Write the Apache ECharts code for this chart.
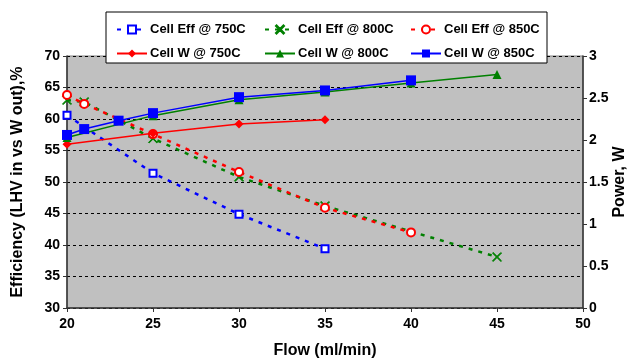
<!DOCTYPE html>
<html>
<head>
<meta charset="utf-8">
<script src="https://cdn.jsdelivr.net/npm/echarts@6/dist/echarts.min.js"></script>
<style>
  html, body { margin: 0; padding: 0; background: #fff; }
  #chart { width: 633px; height: 361px; }
</style>
</head>
<body>
<div id="chart"></div>
<script>
// flow values (ml/min) for each series
var flowEff750 = [20, 25, 30, 35]
var flowEff800 = [20, 21, 25, 30, 35, 45]
var flowEff850 = [20, 21, 25, 30, 35, 40]
var flowW750 = [20, 25, 30, 35]
var flowW800 = [20, 25, 30, 35, 40, 45]
var flowW850 = [20, 21, 23, 25, 30, 35, 40]

// efficiency, %
var eff750 = [60.6, 51.4, 44.9, 39.4]
var eff800 = [63.0, 62.7, 56.9, 50.8, 46.2, 38.1]
var eff850 = [63.8, 62.4, 57.6, 51.6, 45.9, 42.0]

// power, W
var w750 = [1.95, 2.08, 2.19, 2.24]
var w800 = [2.03, 2.29, 2.48, 2.57, 2.68, 2.78]
var w850 = [2.06, 2.13, 2.23, 2.32, 2.51, 2.59, 2.71]

var seriesNames = ['Cell Eff @ 750C', 'Cell Eff @ 800C', 'Cell Eff @ 850C',
  'Cell W @ 750C', 'Cell W @ 800C', 'Cell W @ 850C']

function pairs(xs, ys) {
  return xs.map(function (x, i) { return [x, ys[i]] })
}

// thin "x" marker
var xMark = 'path://M0,0.7L0.7,0L5,4.3L9.3,0L10,0.7L5.7,5L10,9.3L9.3,10L5,5.7L0.7,10L0,9.3L4.3,5Z'
var font = 'Liberation Sans, Arial, sans-serif'

function effSeries(name, color, symbol, size, xs, ys) {
  return {
    name: name,
    type: 'line',
    yAxisIndex: 0,
    data: pairs(xs, ys),
    symbol: symbol,
    symbolSize: size,
    showSymbol: true,
    lineStyle: { color: color, width: 2.5, type: [4, 6] },
    itemStyle: { color: color, borderColor: color, borderWidth: 1 },
    animation: false,
    z: 3
  }
}

function wSeries(name, color, symbol, size, xs, ys) {
  return {
    name: name,
    type: 'line',
    yAxisIndex: 1,
    data: pairs(xs, ys),
    symbol: symbol,
    symbolSize: size,
    lineStyle: { color: color, width: 1.5 },
    itemStyle: { color: color },
    animation: false,
    z: 4
  }
}

function legendCol(left, names) {
  return {
    orient: 'vertical',
    left: left,
    top: 18,
    itemGap: 11,
    itemWidth: 30,
    itemHeight: 10,
    data: names,
    selectedMode: false,
    textStyle: { fontFamily: font, fontWeight: 'bold', fontSize: 13, color: '#000', padding: [0, 0, 0, -2] },
    z: 20
  }
}

var chart = echarts.init(document.getElementById('chart'))

chart.setOption({
  backgroundColor: '#fff',
  textStyle: { fontFamily: font },
  graphic: [{
    type: 'rect',
    shape: { x: 106, y: 12, width: 441, height: 51 },
    style: { fill: '#fff', stroke: '#000', lineWidth: 1 },
    z: 15
  }],
  legend: [
    legendCol(111, [seriesNames[0], seriesNames[3]]),
    legendCol(259, [seriesNames[1], seriesNames[4]]),
    legendCol(405, [seriesNames[2], seriesNames[5]])
  ],
  grid: {
    left: 67,
    right: 50,
    top: 56,
    bottom: 53,
    outerBoundsMode: 'none',
    show: true,
    backgroundColor: '#c0c0c0',
    borderColor: '#808080',
    borderWidth: 1
  },
  xAxis: {
    type: 'value',
    min: 20,
    max: 50,
    interval: 5,
    name: 'Flow (ml/min)',
    nameLocation: 'middle',
    nameGap: 35,
    nameTextStyle: { fontFamily: font, fontWeight: 'bold', fontSize: 16, color: '#000' },
    axisLine: { lineStyle: { color: '#333', width: 1.5 } },
    axisTick: { show: true, length: 4, lineStyle: { color: '#333' } },
    axisLabel: { fontFamily: font, fontWeight: 'bold', fontSize: 14, color: '#000', margin: 9 },
    splitLine: { show: false }
  },
  yAxis: [{
    type: 'value',
    min: 30,
    max: 70,
    interval: 5,
    name: 'Efficiency (LHV in vs W out),%',
    nameLocation: 'middle',
    nameGap: 41,
    nameTextStyle: { fontFamily: font, fontWeight: 'bold', fontSize: 16, color: '#000' },
    axisLine: { show: true, lineStyle: { color: '#333', width: 1.5 } },
    axisTick: { show: true, length: 4, lineStyle: { color: '#333' } },
    axisLabel: { fontFamily: font, fontWeight: 'bold', fontSize: 14, color: '#000', margin: 7 },
    splitLine: { show: true, lineStyle: { color: '#000', type: [3, 3], width: 1 } }
  }, {
    type: 'value',
    min: 0,
    max: 3,
    interval: 0.5,
    position: 'right',
    name: 'Power, W',
    nameLocation: 'middle',
    nameGap: 29,
    nameRotate: 90,
    nameMoveOverlap: false,
    nameTextStyle: { fontFamily: font, fontWeight: 'bold', fontSize: 16, color: '#000' },
    axisLine: { show: true, lineStyle: { color: '#333', width: 1.5 } },
    axisTick: { show: true, length: 4, lineStyle: { color: '#333' } },
    axisLabel: { fontFamily: font, fontWeight: 'bold', fontSize: 14, color: '#000', margin: 6 },
    splitLine: { show: false }
  }],
  series: [
    effSeries(seriesNames[0], '#0000ff', 'emptyRect', 7, flowEff750, eff750),
    effSeries(seriesNames[1], '#008000', xMark, 9, flowEff800, eff800),
    effSeries(seriesNames[2], '#ff0000', 'emptyCircle', 8, flowEff850, eff850),
    wSeries(seriesNames[3], '#ff0000', 'diamond', 9, flowW750, w750),
    wSeries(seriesNames[4], '#008000', 'triangle', 9, flowW800, w800),
    wSeries(seriesNames[5], '#0000ff', 'rect', 10, flowW850, w850)
  ]
})
</script>
</body>
</html>
